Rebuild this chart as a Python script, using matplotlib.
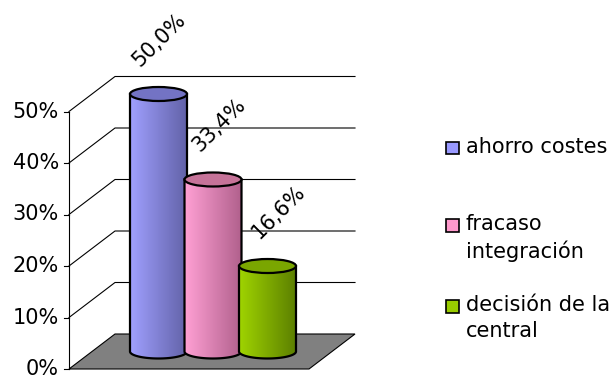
import numpy as np
import matplotlib
matplotlib.use("Agg")
import matplotlib.pyplot as plt
from matplotlib.patches import Polygon, Ellipse, Rectangle

categories = ["ahorro costes", "fracaso\nintegración", "decisión de la\ncentral"]
values = [50.0, 33.4, 16.6]
value_labels = ["50,0%", "33,4%", "16,6%"]
y_ticks = [0, 10, 20, 30, 40, 50]
y_tick_labels = ["0%", "10%", "20%", "30%", "40%", "50%"]

left_colors = [(160, 160, 255), (255, 160, 212), (160, 212, 0)]
right_colors = [(98, 98, 168), (176, 96, 140), (92, 128, 0)]
top_colors = ["#7373c4", "#c67399", "#7aa600"]
legend_colors = ["#9999ff", "#ff99cc", "#99cc00"]

W, H = 614, 376
PX_PER_UNIT = 5.15          # pixels per 1 % on the value axis
FRONT_X = 69                # front value axis
DEPTH_DX = 46               # px shift going to the back wall
DEPTH_DY = 35 / PX_PER_UNIT # same in value units
WALL_RIGHT = 355
CAT_X0, CAT_STEP = 158.5, 54.5
CYL_W = 57
ELL_H = 14 / PX_PER_UNIT

fig = plt.figure(figsize=(W / 100, H / 100), dpi=100)
ax = fig.add_axes([0, 0, 1, 1])
ax.axis("off")

FONT = 15

# gridlines and value axis
for t, lab in zip(y_ticks, y_tick_labels):
    if t > 0:
        ax.plot([FRONT_X, FRONT_X + DEPTH_DX, WALL_RIGHT],
                [t, t + DEPTH_DY, t + DEPTH_DY], color="black", lw=0.8, zorder=1)
    ax.plot([FRONT_X - 5, FRONT_X], [t, t], color="black", lw=0.8, zorder=1)
    ax.text(FRONT_X - 10, t, lab, ha="right", va="center", fontsize=FONT)
ax.plot([FRONT_X, FRONT_X], [0, max(y_ticks)], color="black", lw=0.8, zorder=1)

# floor
floor = Polygon([(FRONT_X, 0), (WALL_RIGHT - DEPTH_DX, 0),
                 (WALL_RIGHT, DEPTH_DY), (FRONT_X + DEPTH_DX, DEPTH_DY)],
                closed=True, facecolor="#808080", edgecolor="black", lw=0.8, zorder=2)
ax.add_patch(floor)

# cylinders
base = DEPTH_DY / 2
for i, v in enumerate(values):
    cx = CAT_X0 + i * CAT_STEP
    xl, xr = cx - CYL_W / 2, cx + CYL_W / 2
    top = v + base
    th = np.linspace(np.pi, 2 * np.pi, 60)
    arc = np.column_stack([cx + CYL_W / 2 * np.cos(th), base + ELL_H / 2 * np.sin(th)])
    verts = np.vstack([[xl, top], arc, [xr, top], [xl, top]])
    body = Polygon(verts, closed=True, facecolor="none", edgecolor="black", lw=1.6,
                   zorder=3 + i * 3 + 1)

    grad = np.linspace(0, 1, 200)
    lc = np.array(left_colors[i]) / 255
    rc = np.array(right_colors[i]) / 255
    img = (lc[None, :] * (1 - grad[:, None]) + rc[None, :] * grad[:, None])[None, :, :]
    im = ax.imshow(img, extent=[xl, xr, base - ELL_H, top], aspect="auto",
                   origin="lower", zorder=3 + i * 3, interpolation="bilinear")
    im.set_clip_path(Polygon(verts, closed=True, transform=ax.transData))
    ax.add_patch(body)
    ax.add_patch(Ellipse((cx, top), CYL_W, ELL_H, facecolor=top_colors[i],
                         edgecolor="black", lw=1.6, zorder=3 + i * 3 + 2))

    ax.text(cx + 1 + i * 5, top + 10.5, value_labels[i], rotation=45,
            ha="center", va="center", fontsize=FONT, zorder=20)

ax.set_xlim(0, W)
ax.set_ylim(-(H - 369) / PX_PER_UNIT, 369 / PX_PER_UNIT)

# legend
leg_y = [148, 225, 306]
for lab, col, ly in zip(categories, legend_colors, leg_y):
    fig.patches.append(Rectangle((446 / W, 1 - (ly + 6.5) / H), 13 / W, 13 / H,
                                 transform=fig.transFigure, facecolor=col,
                                 edgecolor="black", lw=1.2))
    fig.text(466 / W, 1 - (ly - 11) / H, lab, ha="left", va="top",
             fontsize=FONT, linespacing=1.4)

fig.savefig("out.png", dpi=100)
